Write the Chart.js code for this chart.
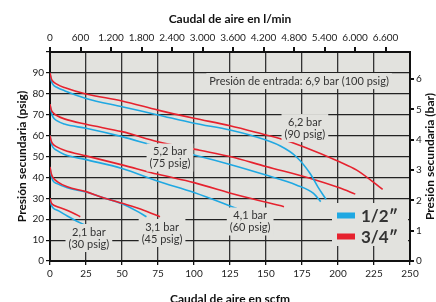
<!DOCTYPE html>
<html>
<head>
<meta charset="utf-8">
<script src="https://cdn.jsdelivr.net/npm/chart.js@4.4.0/dist/chart.umd.min.js"></script>
<style>
  html, body { margin: 0; padding: 0; background: #fff; overflow: hidden; }
</style>
</head>
<body>
<canvas id="caudalChart" width="436" height="302"></canvas>
<script>
// curvas de caudal, 1/2" (azul) -- scfm / psig
var caudal12_30 = [0, 0.8, 2, 6, 12, 18, 24.3]
var presion12_30 = [30, 27, 25.5, 24, 21.5, 19.3, 17.2]
var caudal12_45 = [0, 0.8, 2, 5, 12, 25, 36, 50, 60, 67]
var presion12_45 = [45, 41, 38.5, 37, 35, 33, 30.5, 27.4, 24, 21.2]
var caudal12_60 = [0, 0.8, 2, 5, 10, 25, 50, 75, 100, 129.6]
var presion12_60 = [60, 56.5, 54.5, 52.8, 51, 48.5, 44.3, 38.2, 32.8, 25.2]
var caudal12_75 = [0, 0.8, 2, 5, 10, 25, 50, 75, 100, 125, 150, 171, 183, 188]
var presion12_75 = [75, 71.5, 69, 67, 65.5, 63.5, 59.5, 54.7, 50.7, 46.2, 41.1, 36.4, 32.4, 28.4]
var caudal12_90 = [0, 0.8, 2, 5, 10, 25, 50, 75, 100, 125, 140, 160, 171, 180.5, 186, 191.7]
var presion12_90 = [90, 86.5, 84.5, 83, 81.5, 77.8, 73.8, 69.9, 65.9, 62.7, 60, 55, 49.9, 42, 35.5, 29.5]

// curvas de caudal, 3/4" (rojo)
var caudal34_30 = [0, 0.8, 2, 5, 10, 16, 21]
var presion34_30 = [30, 28, 27, 26, 24.8, 23, 21.2]
var caudal34_45 = [0, 0.8, 2, 5, 12, 25, 36, 50, 65, 76.4]
var presion34_45 = [45, 42, 40, 38, 35.5, 33.2, 30.5, 27.6, 24.3, 21.2]
var caudal34_60 = [0, 0.8, 2, 5, 10, 25, 50, 75, 100, 130, 162.5]
var presion34_60 = [60, 57.5, 56, 54.5, 53, 50.3, 46, 41.5, 37.5, 31.6, 26]
var caudal34_75 = [0, 0.8, 2, 5, 10, 25, 50, 75, 104, 125, 150, 181, 201, 212]
var presion34_75 = [75, 72.5, 71, 69.5, 68, 65.4, 61.9, 57.1, 53, 50, 45.2, 39.5, 35, 32]
var caudal34_90 = [0, 0.8, 2, 5, 10, 25, 50, 75, 100, 125, 150, 160, 176, 201, 213, 231]
var presion34_90 = [90, 87.5, 86, 84.5, 83, 79.9, 76.6, 72.2, 68.3, 64.7, 60.3, 58.5, 54.7, 47.5, 43.5, 34.3]

// marcas del eje superior (l/min)
var marcasLmin = [0, 600, 1200, 1800, 2400, 3000, 3600, 4200, 4800, 5400, 6000, 6600]

var tamanos = ['1/2\u2033', '3/4\u2033']
var colores = ['#1fa8e2', '#e6222e']

// textos sobre el grafico
var textoEntrada = ['Presión de entrada: 6,9 bar (100 psig)']
var textosCurvas = [
  ['6,2 bar', '(90 psig)'],
  ['5,2 bar', '(75 psig)'],
  ['4,1 bar', '(60 psig)'],
  ['3,1 bar', '(45 psig)'],
  ['2,1 bar', '(30 psig)']
]

const SCFM_A_LMIN = 28.3168
const PSI_POR_BAR = 14.5
const fuente = 'Lato, "Open Sans", sans-serif'

function puntos(xs, ys) {
  return xs.map((x, i) => ({ x: x, y: ys[i] }))
}

function linea(xs, ys, color) {
  return {
    data: puntos(xs, ys),
    borderColor: color,
    borderWidth: 1.6,
    pointRadius: 0,
    fill: false,
    cubicInterpolationMode: 'monotone'
  }
}

function miles(v) {
  return String(Math.round(v)).replace(/\B(?=(\d{3})+(?!\d))/g, '.')
}

// fondo gris del area del grafico
const fondoPlugin = {
  id: 'fondo',
  beforeDraw(chart) {
    const a = chart.chartArea
    const ctx = chart.ctx
    ctx.save()
    ctx.fillStyle = '#e2e2de'
    ctx.fillRect(a.left, a.top, a.right - a.left, a.bottom - a.top)
    ctx.restore()
  }
}

function cajaTexto(ctx, lineas, cx, cy, size) {
  const alto = size + 1
  ctx.font = size + 'px ' + fuente
  let ancho = 0
  lineas.forEach(t => { ancho = Math.max(ancho, ctx.measureText(t).width) })
  const h = alto * lineas.length
  ctx.fillStyle = '#e2e2de'
  ctx.fillRect(cx - ancho / 2 - 3, cy - h / 2 - 2, ancho + 6, h + 4)
  ctx.fillStyle = '#333'
  ctx.textAlign = 'center'
  ctx.textBaseline = 'middle'
  lineas.forEach((t, i) => {
    ctx.fillText(t, cx, cy - h / 2 + alto * (i + 0.5))
  })
}

// etiquetas, leyenda y titulo derecho
const textosPlugin = {
  id: 'textos',
  afterDatasetsDraw(chart) {
    const ctx = chart.ctx
    const x = chart.scales.x
    const y = chart.scales.y
    const a = chart.chartArea
    ctx.save()

    cajaTexto(ctx, textoEntrada, x.getPixelForValue(173), y.getPixelForValue(86.1), 11)
    const anclas = [[177, 63.6], [83.3, 49.5], [139, 18.9], [77.8, 13.4], [27, 11]]
    textosCurvas.forEach((t, i) => {
      cajaTexto(ctx, t, x.getPixelForValue(anclas[i][0]), y.getPixelForValue(anclas[i][1]), 11)
    })

    // leyenda
    ctx.fillStyle = '#e2e2de'
    ctx.fillRect(a.right - 78, a.bottom - 58, 76, 43)
    ctx.font = 'bold 17px ' + fuente
    ctx.textAlign = 'left'
    ctx.textBaseline = 'middle'
    tamanos.forEach((t, i) => {
      const yy = a.bottom - 45.5 + i * 21
      ctx.fillStyle = colores[i]
      ctx.fillRect(a.right - 73, yy - 3, 18, 6)
      ctx.fillStyle = '#333'
      ctx.fillText(t, a.right - 49, yy + 1)
    })

    // titulo eje derecho
    ctx.translate(chart.width - 6, (a.top + a.bottom) / 2)
    ctx.rotate(-Math.PI / 2)
    ctx.font = 'bold 12px ' + fuente
    ctx.fillStyle = '#111'
    ctx.textAlign = 'center'
    ctx.fillText('Presión secundaria (bar)', 0, 0)
    ctx.restore()
  }
}

const tickFont = { family: fuente, size: 10 }
const titleFont = { family: fuente, size: 12, weight: 'bold' }
const borde = { color: '#111', width: 2 }

var ctx = document.getElementById('caudalChart').getContext('2d')
var chartCaudal = new Chart(ctx, {
  type: 'line',
  data: {
    datasets: [
      linea(caudal34_90, presion34_90, colores[1]),
      linea(caudal12_90, presion12_90, colores[0]),
      linea(caudal34_75, presion34_75, colores[1]),
      linea(caudal12_75, presion12_75, colores[0]),
      linea(caudal34_60, presion34_60, colores[1]),
      linea(caudal12_60, presion12_60, colores[0]),
      linea(caudal34_45, presion34_45, colores[1]),
      linea(caudal12_45, presion12_45, colores[0]),
      linea(caudal34_30, presion34_30, colores[1]),
      linea(caudal12_30, presion12_30, colores[0])
    ]
  },
  options: {
    responsive: false,
    animation: false,
    layout: { padding: 0 },
    plugins: { legend: { display: false }, tooltip: { enabled: false } },
    scales: {
      x: {
        type: 'linear', position: 'bottom', min: 0, max: 250,
        ticks: { stepSize: 25, color: '#222', font: tickFont, padding: 3, maxRotation: 0, autoSkip: false },
        grid: { color: '#333', lineWidth: 1.3, tickLength: 4, tickColor: '#111' },
        border: borde,
        title: { display: true, text: 'Caudal de aire en scfm', color: '#111', font: titleFont, padding: { top: 0, bottom: -4 } },
        afterFit: s => { s.height = 41 }
      },
      x2: {
        type: 'linear', position: 'top', min: 0, max: 250 * SCFM_A_LMIN,
        afterBuildTicks: s => { s.ticks = marcasLmin.map(v => ({ value: v })) },
        ticks: { autoSkip: false, maxRotation: 0, color: '#222', font: tickFont, padding: 3, callback: v => miles(v) },
        grid: { drawOnChartArea: false, tickLength: 5, tickColor: '#111', lineWidth: 2 },
        border: borde,
        title: { display: true, text: 'Caudal de aire en l/min', color: '#111', font: titleFont, padding: { top: 12 } },
        afterFit: s => { s.height = 52 }
      },
      y: {
        type: 'linear', position: 'left', min: 0, max: 100,
        ticks: { stepSize: 10, color: '#222', font: tickFont, padding: 2, callback: v => (v <= 90 ? v : '') },
        grid: { color: '#222', lineWidth: 1.2, tickLength: 4, tickColor: '#111' },
        border: borde,
        title: { display: true, text: 'Presión secundaria (psig)', color: '#111', font: titleFont, padding: { top: 15 } },
        afterFit: s => { s.width = 50 }
      },
      y2: {
        type: 'linear', position: 'right', min: 0, max: 100 / PSI_POR_BAR,
        ticks: { stepSize: 1, includeBounds: false, color: '#222', font: tickFont, padding: 2 },
        grid: { drawOnChartArea: false, tickLength: 4, tickColor: '#111', lineWidth: 2 },
        border: borde,
        afterFit: s => { s.width = 26 }
      }
    }
  },
  plugins: [fondoPlugin, textosPlugin]
})
</script>
</body>
</html>
